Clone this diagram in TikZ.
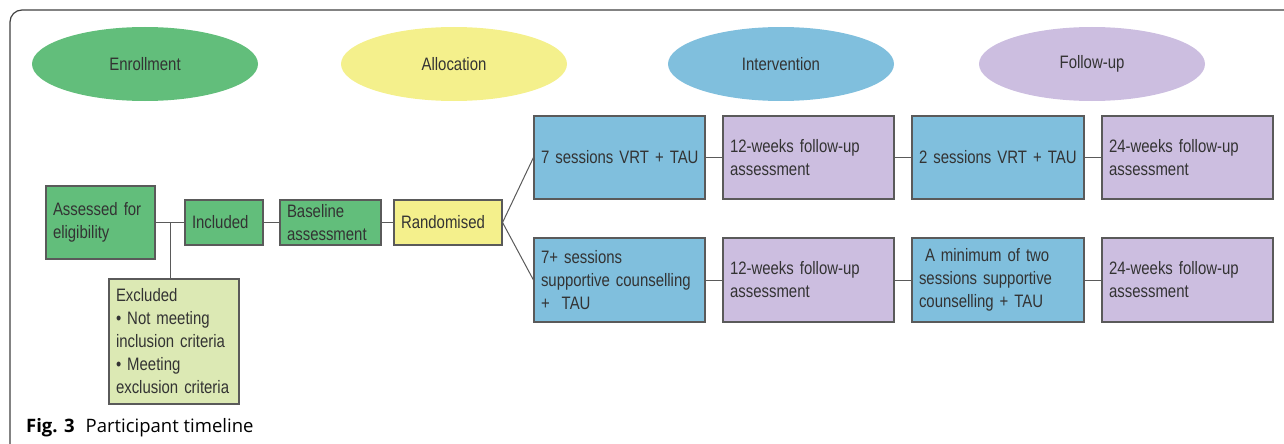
\documentclass[tikz,border=0pt]{standalone}
\usepackage{fontspec}
\usepackage{tikz}
\usetikzlibrary{shapes.geometric}
\newfontfamily\boxfont[FakeStretch=0.83]{Liberation Sans}
\newfontfamily\capfont{Open Sans}
\definecolor{enrolgreen}{HTML}{62BE7B}
\definecolor{allocyellow}{HTML}{F4F08C}
\definecolor{interblue}{HTML}{80BFDD}
\definecolor{followpurple}{HTML}{CCBEE0}
\definecolor{exclgreen}{HTML}{DCE9B4}
\definecolor{boxline}{HTML}{5A5A5A}
\tikzset{
  phase/.style={ellipse, minimum width=226pt, minimum height=74pt, inner sep=0pt,
    text=black!80, font=\boxfont\fontsize{18}{23}\selectfont},
  box/.style={draw=boxline, line width=1.1pt, rectangle, align=left, inner xsep=7pt,
    inner ysep=0pt, text=black!80, font=\boxfont\fontsize{18}{23}\selectfont},
  link/.style={draw=boxline, line width=1pt}
}

\begin{document}
\begin{tikzpicture}[x=1pt, y=-1pt]
		\useasboundingbox (0,0) rectangle (1284,444);
		\draw[black!75, line width=1.2pt, rounded corners=12pt] (10,450) -- (10,10) -- (1290,10);

		\node[phase, fill=enrolgreen] (enrol) at (145,64) {Enrollment};
		\node[phase, fill=allocyellow] (alloc) at (454,64) {Allocation};
		\node[phase, fill=interblue] (inter) at (781,64) {Intervention};
		\node[phase, fill=followpurple] (follow) at (1092,64) {Follow-up};

		\node[box, fill=enrolgreen, text width=95pt, minimum height=73pt] (assess) at (100.5,222.5) {Assessed~for\\eligibility};
		\node[box, fill=enrolgreen, text width=64pt, minimum height=45pt] (incl) at (224,222.5) {Included};
		\node[box, fill=enrolgreen, text width=87pt, minimum height=45pt] (base) at (330.5,222.5) {Baseline\\assessment};
		\node[box, fill=allocyellow, text width=94pt, minimum height=45pt] (rand) at (448,222.5) {Randomised};
		\node[box, fill=exclgreen, text width=116pt, minimum height=125pt] (excl) at (174,341.5) {Excluded\\\textbullet{}~Not~meeting\\inclusion~criteria\\\textbullet{}~Meeting\\exclusion~criteria};

		\node[box, fill=interblue, text width=157pt, minimum height=83pt] (vrtA) at (619.5,157.5) {\mbox{7 sessions VRT + TAU}};
		\node[box, fill=followpurple, text width=157pt, minimum height=83pt] (fuA) at (808.5,157.5) {12-weeks~follow-up\\assessment};
		\node[box, fill=interblue, text width=158pt, minimum height=83pt] (vrtB) at (998,157.5) {\mbox{2 sessions VRT + TAU}};
		\node[box, fill=followpurple, text width=157pt, minimum height=83pt] (fuB) at (1187.5,157.5) {24-weeks~follow-up\\assessment};

		\node[box, fill=interblue, text width=157pt, minimum height=84pt] (scA) at (619.5,280) {7+~sessions\\supportive~counselling\\+\ \ TAU};
		\node[box, fill=followpurple, text width=157pt, minimum height=84pt] (fuC) at (808.5,280) {12-weeks~follow-up\\assessment};
		\node[box, fill=interblue, text width=158pt, minimum height=84pt] (scB) at (998,280) {\ A~minimum~of~two\\sessions~supportive\\counselling~+~TAU};
		\node[box, fill=followpurple, text width=157pt, minimum height=84pt] (fuD) at (1187.5,280) {24-weeks~follow-up\\assessment};

		% connectors
		\path (assess.east) -- (incl.west) coordinate[pos=0.5] (fork);
		\draw[link] (assess) -- (incl);
		\draw[link] (fork) -- (fork |- excl.north);
		\draw[link] (incl) -- (base);
		\draw[link] (base) -- (rand);
		\draw[link] (rand.east) -- (vrtA.west);
		\draw[link] (rand.east) -- (scA.west);
		\draw[link] (vrtA) -- (fuA);
		\draw[link] (fuA) -- (vrtB);
		\draw[link] (vrtB) -- (fuB);
		\draw[link] (scA) -- (fuC);
		\draw[link] (fuC) -- (scB);
		\draw[link] (scB) -- (fuD);

		\node[anchor=base west, inner sep=0pt, font=\capfont\fontsize{18.5}{20}\selectfont] (caption) at (26,432) {\textbf{Fig. 3}\hspace{11pt}Participant timeline};
	\end{tikzpicture}
\end{document}
